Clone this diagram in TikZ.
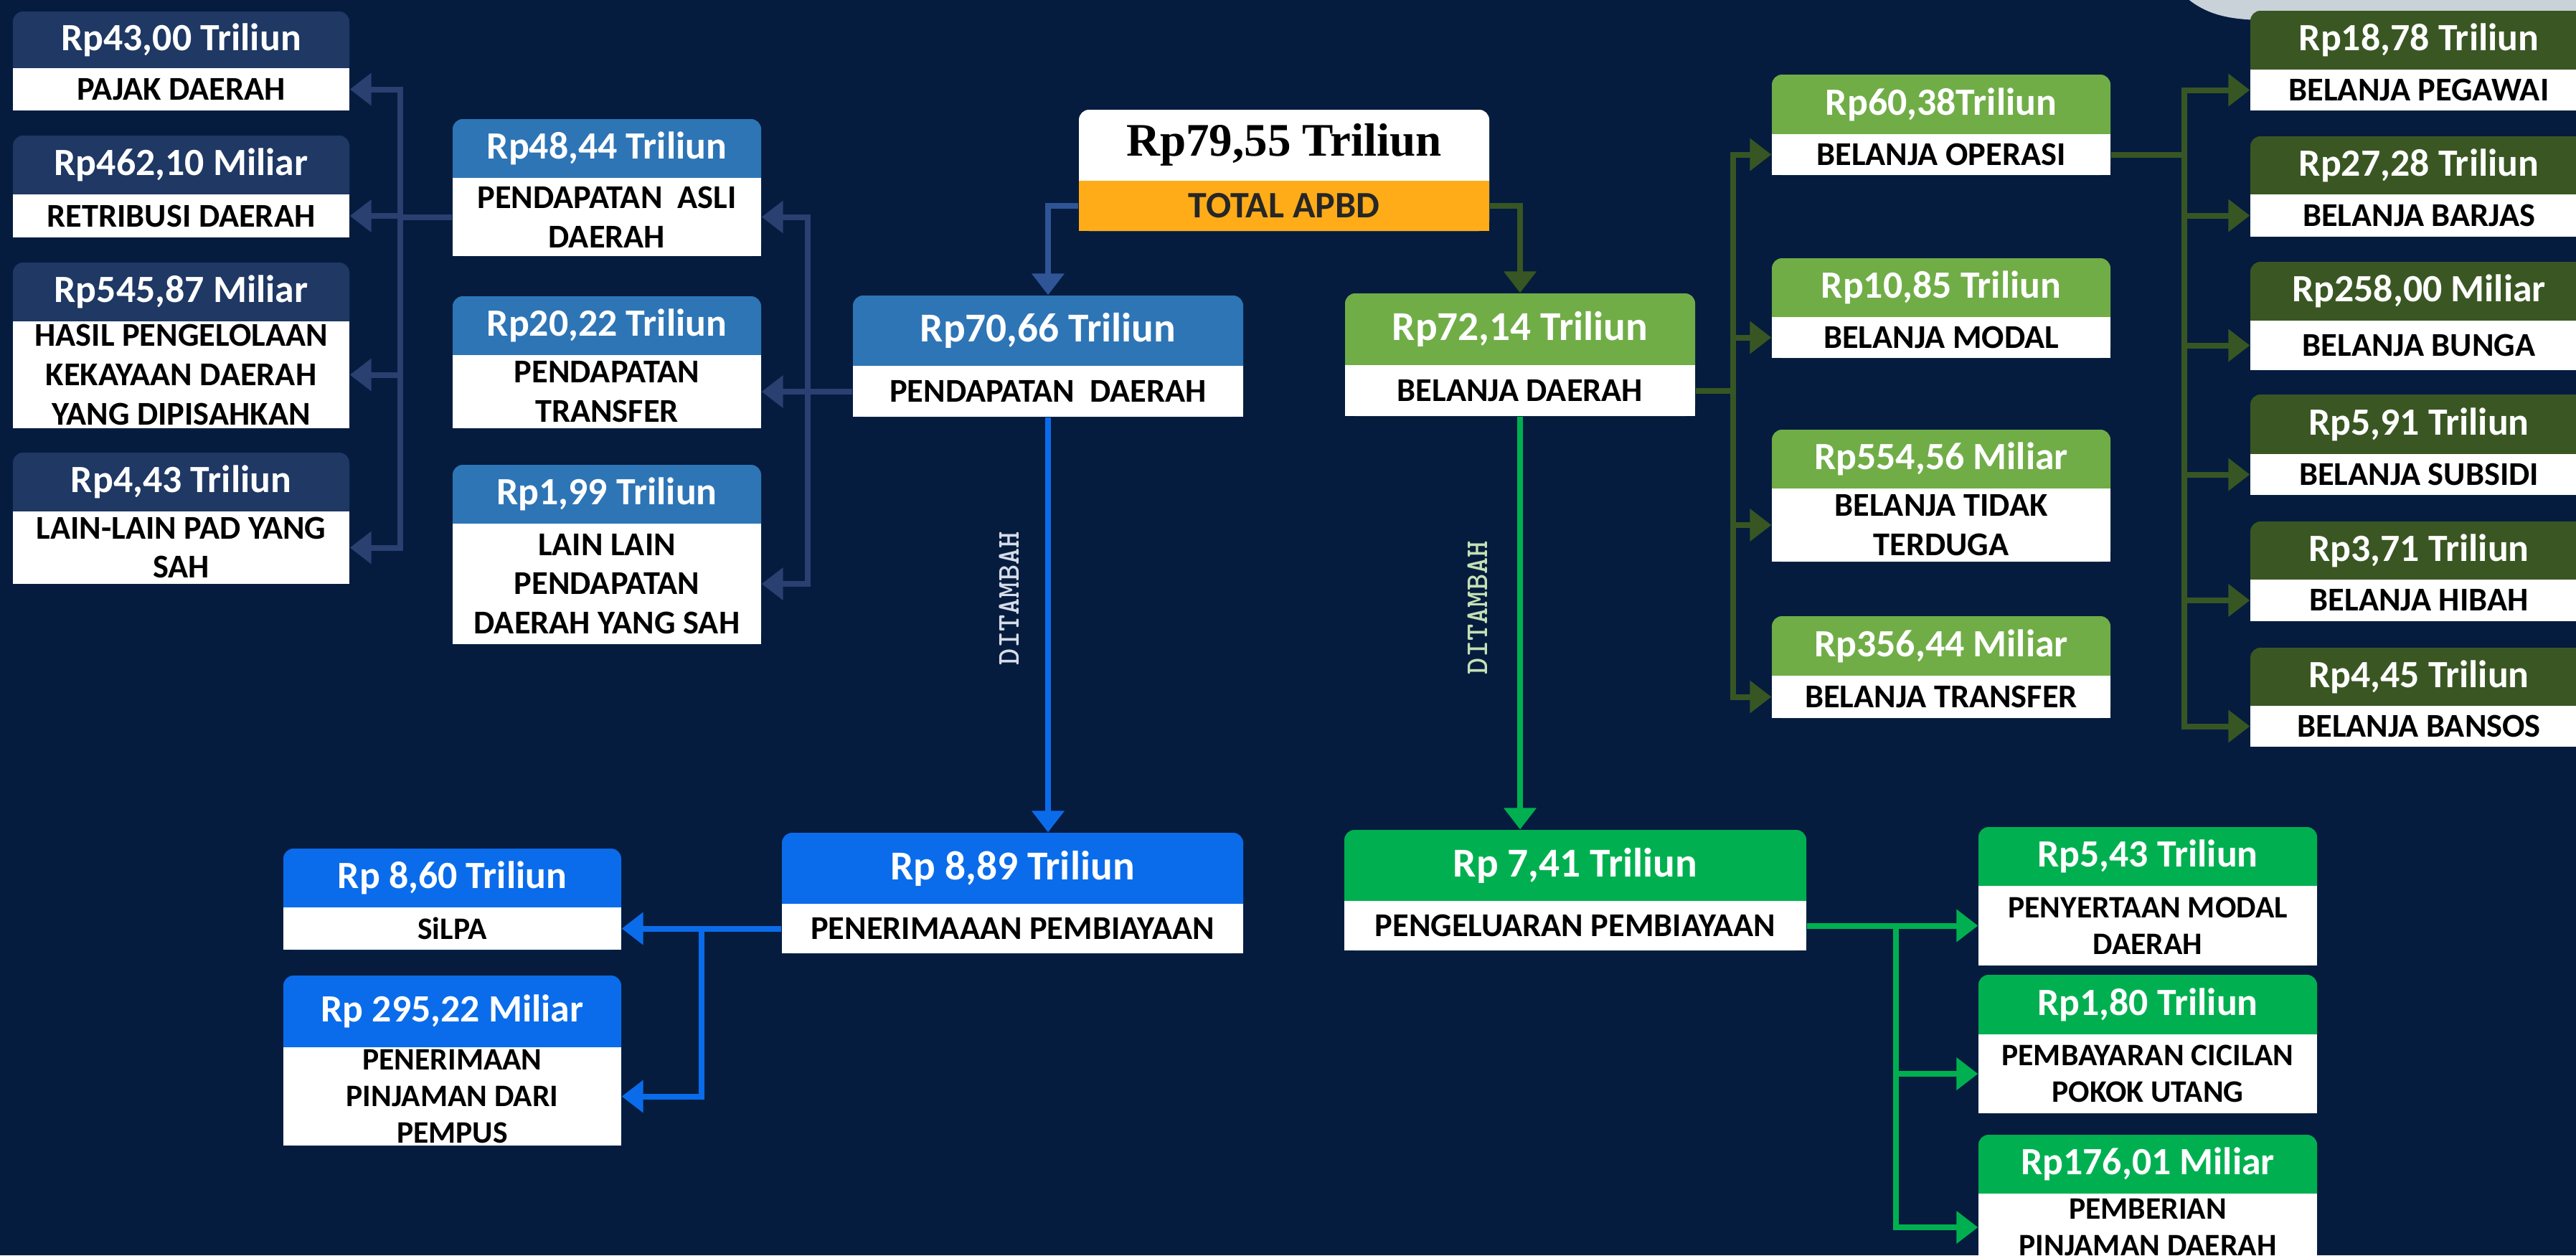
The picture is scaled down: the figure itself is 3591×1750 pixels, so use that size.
\documentclass[tikz,border=0pt]{standalone}
\usepackage{fontspec}
\setmainfont{Carlito}
\newfontfamily\totalfnt{Liberation Serif}
\usetikzlibrary{arrows.meta}
\definecolor{bgc}{RGB}{5,28,63}
\definecolor{navyc}{RGB}{31,56,100}
\definecolor{navyline}{RGB}{41,64,112}
\definecolor{bluec}{RGB}{46,117,182}
\definecolor{blueline}{RGB}{47,85,151}
\definecolor{greenc}{RGB}{112,173,71}
\definecolor{dkgreen}{RGB}{58,87,35}
\definecolor{dkline}{RGB}{55,86,35}
\definecolor{brblue}{RGB}{10,108,234}
\definecolor{brgreen}{RGB}{0,176,80}
\definecolor{orangec}{RGB}{255,172,24}
\definecolor{greyblob}{RGB}{200,210,216}
\definecolor{ditblue}{RGB}{214,220,232}
\definecolor{ditgreen}{RGB}{197,224,180}
\newcommand\hdrfnt{\fontsize{15.3}{18}\selectfont\bfseries}
\newcommand\bodyfnt{\fontsize{13.2}{15.6}\selectfont\bfseries}
\newcommand\finbox[9]{%
  \fill[fill=#7,rounded corners=1.4mm] (#2,#3) rectangle (#4,#6);
  \fill[white] (#2,#5) rectangle (#4,#6);
  \node[hdr,minimum width={(#4-#2)*0.1mm},minimum height={(#5-#3)*0.1mm}] (#1h) at ({(#2+#4)/2},{(#3+#5)/2}) {#8};
  \node[bdy,minimum width={(#4-#2)*0.1mm},minimum height={(#6-#5)*0.1mm}] (#1) at ({(#2+#4)/2},{(#5+#6)/2}) {#9};
}
\tikzset{
  hdr/.style={inner sep=0pt, text=white, font=\hdrfnt},
  bdy/.style={inner sep=0pt, align=center, text=black, font=\bodyfnt},
  con/.style={line width=0.8mm},
  arr/.style={con,-{Triangle[length=3mm,width=4.4mm]}},
  dit/.style={rotate=90, inner sep=0pt, font=\ttfamily\bfseries\fontsize{12.6}{13}\selectfont}
}
\begin{document}
\begin{tikzpicture}[x=0.1mm,y=-0.1mm]
\fill[bgc] (0,0) rectangle (3591,1750);
\useasboundingbox (0,0) rectangle (3591,1750);
% decorative grey shape top right
\fill[greyblob] (3040,-10) .. controls (3070,18) and (3100,28) .. (3160,28) -- (3600,28) -- (3600,-10) -- cycle;

% left navy column
\finbox{pajak}{18}{16}{487}{95}{154}{navyc}{Rp43,00 Triliun}{PAJAK DAERAH}
\finbox{retri}{18}{189}{487}{271}{331}{navyc}{Rp462,10 Miliar}{RETRIBUSI DAERAH}
\finbox{hasil}{18}{366}{487}{448}{597}{navyc}{Rp545,87 Miliar}{HASIL PENGELOLAAN\\KEKAYAAN DAERAH\\YANG DIPISAHKAN}
\finbox{lainpad}{18}{631}{487}{713}{814}{navyc}{Rp4,43 Triliun}{LAIN-LAIN PAD YANG\\SAH}

% blue PAD column
\finbox{pad}{631}{166}{1061}{248}{357}{bluec}{Rp48,44 Triliun}{PENDAPATAN\ \ ASLI\\DAERAH}
\finbox{ptr}{631}{413}{1061}{495}{597}{bluec}{Rp20,22 Triliun}{PENDAPATAN\\TRANSFER}
\finbox{llpd}{631}{648}{1061}{730}{898}{bluec}{Rp1,99 Triliun}{LAIN LAIN\\PENDAPATAN\\DAERAH YANG SAH}

% mid green column
\finbox{op}{2470}{104}{2942}{187}{244}{greenc}{Rp60,38Triliun}{BELANJA OPERASI}
\finbox{modal}{2470}{360}{2942}{442}{499}{greenc}{Rp10,85 Triliun}{BELANJA MODAL}
\finbox{tt}{2470}{599}{2942}{681}{783}{greenc}{Rp554,56 Miliar}{BELANJA TIDAK\\TERDUGA}
\finbox{btr}{2470}{859}{2942}{942}{1001}{greenc}{Rp356,44 Miliar}{BELANJA TRANSFER}

% dark green column
\finbox{peg}{3137}{15}{3607}{97}{154}{dkgreen}{Rp18,78 Triliun}{BELANJA PEGAWAI}
\finbox{barjas}{3137}{190}{3607}{271}{330}{dkgreen}{Rp27,28 Triliun}{BELANJA BARJAS}
\finbox{bunga}{3137}{365}{3607}{447}{516}{dkgreen}{Rp258,00 Miliar}{BELANJA BUNGA}
\finbox{subsidi}{3137}{550}{3607}{633}{690}{dkgreen}{Rp5,91 Triliun}{BELANJA SUBSIDI}
\finbox{hibah}{3137}{727}{3607}{808}{866}{dkgreen}{Rp3,71 Triliun}{BELANJA HIBAH}
\finbox{bansos}{3137}{903}{3607}{984}{1041}{dkgreen}{Rp4,45 Triliun}{BELANJA BANSOS}

% main boxes
\renewcommand\hdrfnt{\fontsize{16.3}{19}\selectfont\bfseries}
\finbox{pd}{1189}{412}{1733}{510}{581}{bluec}{Rp70,66 Triliun}{PENDAPATAN\ \ DAERAH}
\finbox{bd}{1875}{409}{2363}{509}{580}{greenc}{Rp72,14 Triliun}{BELANJA DAERAH}
\finbox{pen}{1090}{1161}{1733}{1260}{1329}{brblue}{Rp 8,89 Triliun}{PENERIMAAAN PEMBIAYAAN}
\finbox{peng}{1874}{1157}{2518}{1256}{1325}{brgreen}{Rp 7,41 Triliun}{PENGELUARAN PEMBIAYAAN}

% total box
\fill[white,rounded corners=1.4mm] (1504,153) rectangle (2076,322);
\fill[orangec] (1504,252) rectangle (2076,322);
\node[inner sep=0pt, minimum width=57.2mm, minimum height=9.9mm, font=\totalfnt\fontsize{18.5}{21}\selectfont\bfseries, text=black] (totalh) at (1790,202) {Rp79,55 Triliun};
\node[inner sep=0pt, minimum width=57.2mm, minimum height=7mm, font=\fontsize{14.8}{17}\selectfont\bfseries, text={black!85}] (totalb) at (1790,287) {TOTAL APBD};

% bottom small boxes
\renewcommand\hdrfnt{\fontsize{15.3}{18}\selectfont\bfseries}
\renewcommand\bodyfnt{\fontsize{12.4}{14.6}\selectfont\bfseries}
\finbox{silpa}{395}{1183}{866}{1265}{1324}{brblue}{Rp 8,60 Triliun}{SiLPA}
\finbox{pinj}{395}{1360}{866}{1460}{1597}{brblue}{Rp 295,22 Miliar}{PENERIMAAN\\PINJAMAN DARI\\PEMPUS}
\finbox{pmd}{2758}{1153}{3230}{1235}{1346}{brgreen}{Rp5,43 Triliun}{PENYERTAAN MODAL\\DAERAH}
\finbox{pcp}{2758}{1359}{3230}{1442}{1552}{brgreen}{Rp1,80 Triliun}{PEMBAYARAN CICILAN\\POKOK UTANG}
\finbox{ppd}{2758}{1582}{3230}{1664}{1758}{brgreen}{Rp176,01 Miliar}{PEMBERIAN\\PINJAMAN DAERAH}

% connectors: PAD -> left column
\foreach \t in {pajak,retri,hasil,lainpad}
  \draw[arr,navyline] (pad.west) -- ++(-72,0) |- (\t.east);
% PD -> PAD column
\foreach \t in {pad,ptr,llpd}
  \draw[arr,navyline] (pd.west) -- ++(-62,0) |- (\t.east);
% total -> PD / BD
\draw[arr,blueline] (totalb.west) -| (pdh.north);
\draw[arr,dkline] (totalb.east) -| (bdh.north);
% BD -> mid green
\foreach \t in {op,modal,tt,btr}
  \draw[arr,dkline] (bd.east) -- ++(52,0) |- (\t.west);
% operasi -> dark green
\foreach \t in {peg,barjas,bunga,subsidi,hibah,bansos}
  \draw[arr,dkline] (op.east) -- ++(102,0) |- (\t.west);
% DITAMBAH verticals
\draw[arr,brblue] (pd.south) -- (pd.south |- penh.north);
\draw[arr,brgreen] (bd.south) -- (bd.south |- pengh.north);
\node[dit,text=ditblue] (dit1) at (1407,834) {DITAMBAH};
\node[dit,text=ditgreen] (dit2) at (2060,847) {DITAMBAH};
% penerimaan -> silpa / pinjaman
\draw[arr,brblue] (pen.west) -- (silpa.east);
\draw[arr,brblue] (pen.west) -- ++(-111,0) |- (pinj.east);
% pengeluaran -> right boxes
\foreach \t in {pmd,pcp,ppd}
  \draw[arr,brgreen] (peng.east) -- ++(124,0) |- (\t.west);
\end{tikzpicture}
\end{document}
